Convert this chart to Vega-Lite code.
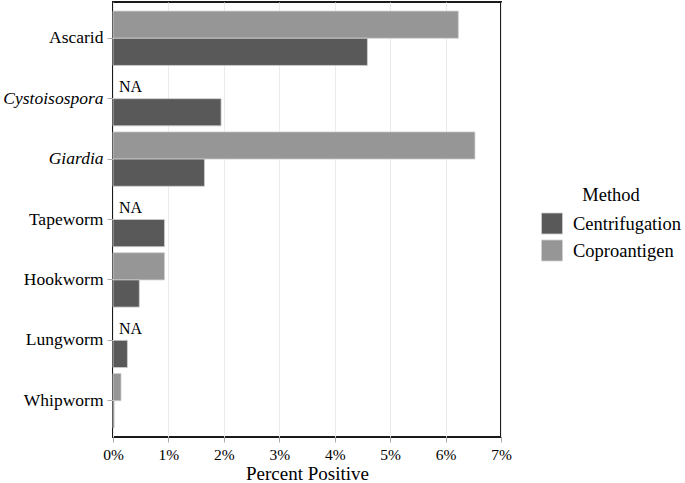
{
  "$schema": "https://vega.github.io/schema/vega-lite/v6.json",
  "autosize": "none",
  "width": 388,
  "height": 435,
  "padding": {"left": 113, "top": 2, "right": 184, "bottom": 46},
  "background": "white",
  "config": {
    "font": "Liberation Serif",
    "view": {"stroke": "#1a1a1a", "strokeWidth": 2},
    "axis": {"labelFont": "Liberation Serif", "titleFont": "Liberation Serif", "labelColor": "#000", "titleColor": "#000", "titleFontWeight": "normal", "domain": false, "tickColor": "#aaaaaa", "tickSize": 5}
  },
  "data": {
    "values": [
      {"Parasite": "Ascarid", "Method": "Coproantigen", "pct": 6.23},
      {"Parasite": "Ascarid", "Method": "Centrifugation", "pct": 4.59},
      {"Parasite": "Cystoisospora", "Method": "Coproantigen", "pct": null},
      {"Parasite": "Cystoisospora", "Method": "Centrifugation", "pct": 1.95},
      {"Parasite": "Giardia", "Method": "Coproantigen", "pct": 6.53},
      {"Parasite": "Giardia", "Method": "Centrifugation", "pct": 1.65},
      {"Parasite": "Tapeworm", "Method": "Coproantigen", "pct": null},
      {"Parasite": "Tapeworm", "Method": "Centrifugation", "pct": 0.93},
      {"Parasite": "Hookworm", "Method": "Coproantigen", "pct": 0.93},
      {"Parasite": "Hookworm", "Method": "Centrifugation", "pct": 0.475},
      {"Parasite": "Lungworm", "Method": "Coproantigen", "pct": null},
      {"Parasite": "Lungworm", "Method": "Centrifugation", "pct": 0.26},
      {"Parasite": "Whipworm", "Method": "Coproantigen", "pct": 0.145},
      {"Parasite": "Whipworm", "Method": "Centrifugation", "pct": 0.02}
    ]
  },
  "encoding": {
    "y": {
      "field": "Parasite", "type": "nominal",
      "sort": ["Ascarid", "Cystoisospora", "Giardia", "Tapeworm", "Hookworm", "Lungworm", "Whipworm"],
      "scale": {"paddingInner": 0.1, "paddingOuter": 0.15},
      "axis": {
        "title": null, "labelFontSize": 17.5, "labelPadding": 4, "tickSize": 6, "grid": false,
        "labelFontStyle": {"condition": {"test": "datum.value == 'Cystoisospora' || datum.value == 'Giardia'", "value": "italic"}, "value": "normal"}
      }
    },
    "yOffset": {
      "field": "Method", "type": "nominal",
      "sort": ["Coproantigen", "Centrifugation"],
      "scale": {"paddingInner": 0, "paddingOuter": 0}
    }
  },
  "layer": [
    {
      "mark": {"type": "bar", "stroke": "#cfcfcf", "strokeWidth": 0.8},
      "encoding": {
        "x": {
          "field": "pct", "type": "quantitative",
          "scale": {"domain": [0, 7], "nice": false, "zero": true},
          "axis": {"title": "Percent Positive", "titleFontSize": 19, "titlePadding": 2, "labelFontSize": 15.5, "labelPadding": 5, "labelFlush": false, "values": [0, 1, 2, 3, 4, 5, 6, 7], "labelExpr": "datum.value + '%'", "grid": true, "gridColor": "#ebebeb", "gridWidth": 1}
        },
        "color": {
          "field": "Method", "type": "nominal",
          "scale": {"domain": ["Centrifugation", "Coproantigen"], "range": ["#595959", "#969696"]},
          "legend": {
            "orient": "none", "legendX": 428, "legendY": 184,
            "title": "Method", "titleFontSize": 18.5, "titleFont": "Liberation Serif", "titleFontWeight": "normal", "titleColor": "#000",
            "titleAnchor": "middle", "titleAlign": "center", "titlePadding": 8,
            "labelFontSize": 18.5, "labelFont": "Liberation Serif", "labelColor": "#000", "labelOffset": 10,
            "symbolType": "square", "symbolSize": 441, "symbolStrokeColor": "#cfcfcf", "symbolStrokeWidth": 0.8, "rowPadding": 1
          }
        }
      }
    },
    {
      "transform": [{"filter": "datum.pct === null"}],
      "mark": {"type": "text", "text": "NA", "align": "left", "baseline": "middle", "dx": 6, "dy": 2, "fontSize": 16, "font": "Liberation Serif", "color": "#000"},
      "encoding": {
        "x": {"datum": 0, "type": "quantitative"}
      }
    }
  ]
}
